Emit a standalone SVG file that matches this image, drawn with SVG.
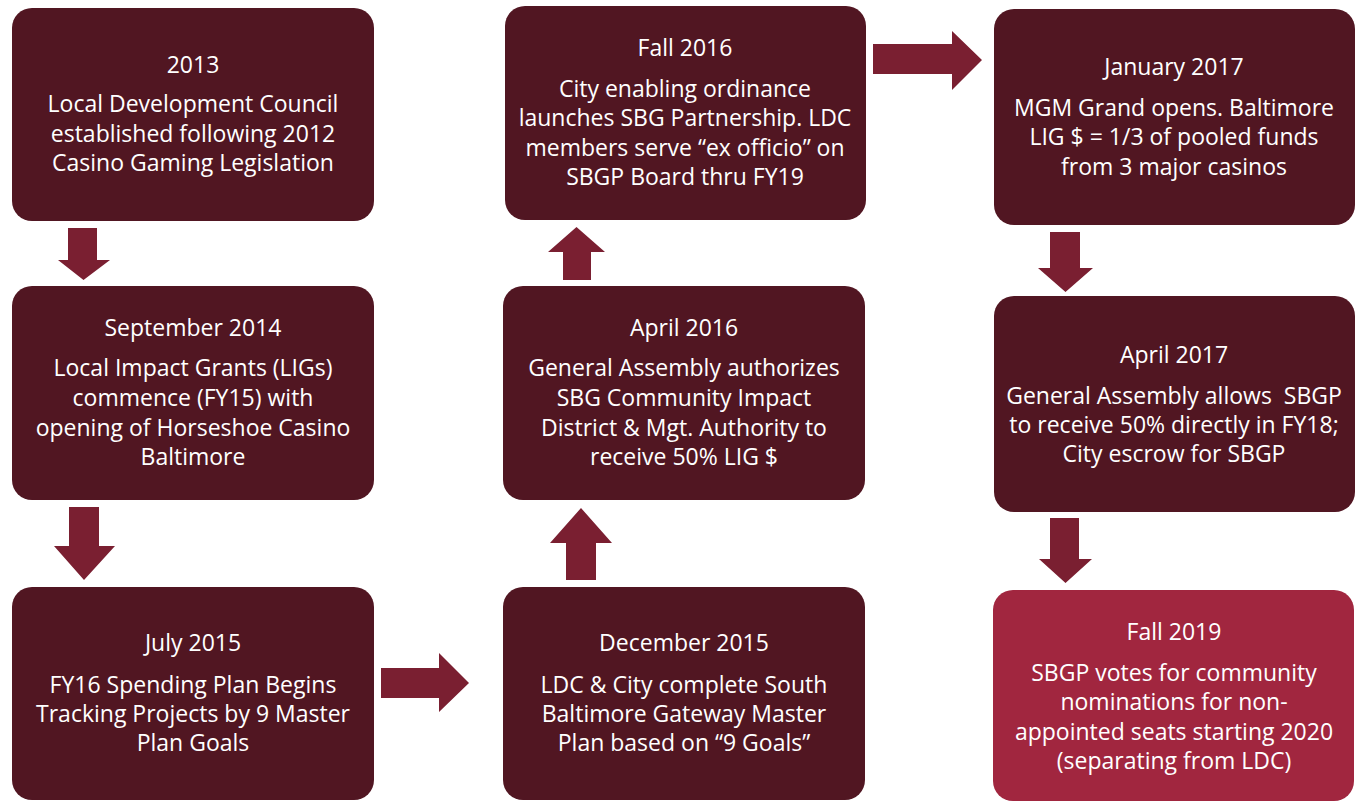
<svg xmlns="http://www.w3.org/2000/svg" width="1355" height="802" viewBox="0 0 1355 802">
<style>
.box{fill:#511622;}
.last{fill:#A1263F;}
.arr{fill:#7A1F31;}
text{font-family:"Open Sans",Lato,sans-serif;font-size:23px;fill:#ffffff;text-anchor:middle;}
</style>
<rect width="1355" height="802" fill="#ffffff"/>
<g id="connectors">
<polygon class="arr" points="68,228 97,228 97,260 110,260 83.5,280 58,260 68,260"/>
<polygon class="arr" points="69,507 99,507 99,546 115,546 84,580 54,546 69,546"/>
<polygon class="arr" points="381,668 439,668 439,653 469,683 439,712 439,698 381,698"/>
<polygon class="arr" points="566,580 596,580 596,543 612,543 581,508 550,543 566,543"/>
<polygon class="arr" points="563,280 591,280 591,252 605,252 576.5,227 548,252 563,252"/>
<polygon class="arr" points="873,44 952,44 952,31 982,60 952,90 952,74 873,74"/>
<polygon class="arr" points="1050,232 1080,232 1080,268 1093,268 1065.5,292 1038,268 1050,268"/>
<polygon class="arr" points="1050,518 1079,518 1079,559 1092,559 1065.5,583 1039,559 1050,559"/>
</g>
<g id="n2013">
<rect class="box" x="12" y="8" width="362" height="213" rx="20"/>
<text x="193" y="73">2013</text>
<text x="193" y="112">Local Development Council</text>
<text x="193" y="142">established following 2012</text>
<text x="193" y="171">Casino Gaming Legislation</text>
</g>
<g id="nSep2014">
<rect class="box" x="12" y="286" width="362" height="214" rx="20"/>
<text x="193" y="336">September 2014</text>
<text x="193" y="376">Local Impact Grants (LIGs)</text>
<text x="193" y="406">commence (FY15) with</text>
<text x="193" y="436">opening of Horseshoe Casino</text>
<text x="193" y="465">Baltimore</text>
</g>
<g id="nJul2015">
<rect class="box" x="12" y="587" width="362" height="213" rx="20"/>
<text x="193" y="651">July 2015</text>
<text x="193" y="693">FY16 Spending Plan Begins</text>
<text x="193" y="722">Tracking Projects by 9 Master</text>
<text x="193" y="751">Plan Goals</text>
</g>
<g id="nDec2015">
<rect class="box" x="503" y="587" width="362" height="213" rx="20"/>
<text x="684" y="651">December 2015</text>
<text x="684" y="693">LDC &amp; City complete South</text>
<text x="684" y="722">Baltimore Gateway Master</text>
<text x="684" y="751">Plan based on “9 Goals”</text>
</g>
<g id="nApr2016">
<rect class="box" x="503" y="286" width="362" height="214" rx="20"/>
<text x="684" y="336">April 2016</text>
<text x="684" y="376">General Assembly authorizes</text>
<text x="684" y="406">SBG Community Impact</text>
<text x="684" y="436">District &amp; Mgt. Authority to</text>
<text x="684" y="465">receive 50% LIG $</text>
</g>
<g id="nFall2016">
<rect class="box" x="505" y="6" width="361" height="214" rx="20"/>
<text x="685" y="56">Fall 2016</text>
<text x="685" y="97">City enabling ordinance</text>
<text x="685" y="126">launches SBG Partnership. LDC</text>
<text x="685" y="156">members serve “ex officio” on</text>
<text x="685" y="185">SBGP Board thru FY19</text>
</g>
<g id="nJan2017">
<rect class="box" x="994" y="9" width="361" height="216" rx="20"/>
<text x="1174" y="75">January 2017</text>
<text x="1174" y="116">MGM Grand opens. Baltimore</text>
<text x="1174" y="145">LIG $ = 1/3 of pooled funds</text>
<text x="1174" y="175">from 3 major casinos</text>
</g>
<g id="nApr2017">
<rect class="box" x="994" y="296" width="361" height="216" rx="20"/>
<text x="1174" y="363">April 2017</text>
<text x="1174" y="404" xml:space="preserve">General Assembly allows  SBGP</text>
<text x="1174" y="433">to receive 50% directly in FY18;</text>
<text x="1174" y="462">City escrow for SBGP</text>
</g>
<g id="nFall2019">
<rect class="last" x="993" y="590" width="361" height="211" rx="20"/>
<text x="1174" y="640">Fall 2019</text>
<text x="1174" y="681">SBGP votes for community</text>
<text x="1174" y="710">nominations for non-</text>
<text x="1174" y="740">appointed seats starting 2020</text>
<text x="1174" y="769">(separating from LDC)</text>
</g>
</svg>
